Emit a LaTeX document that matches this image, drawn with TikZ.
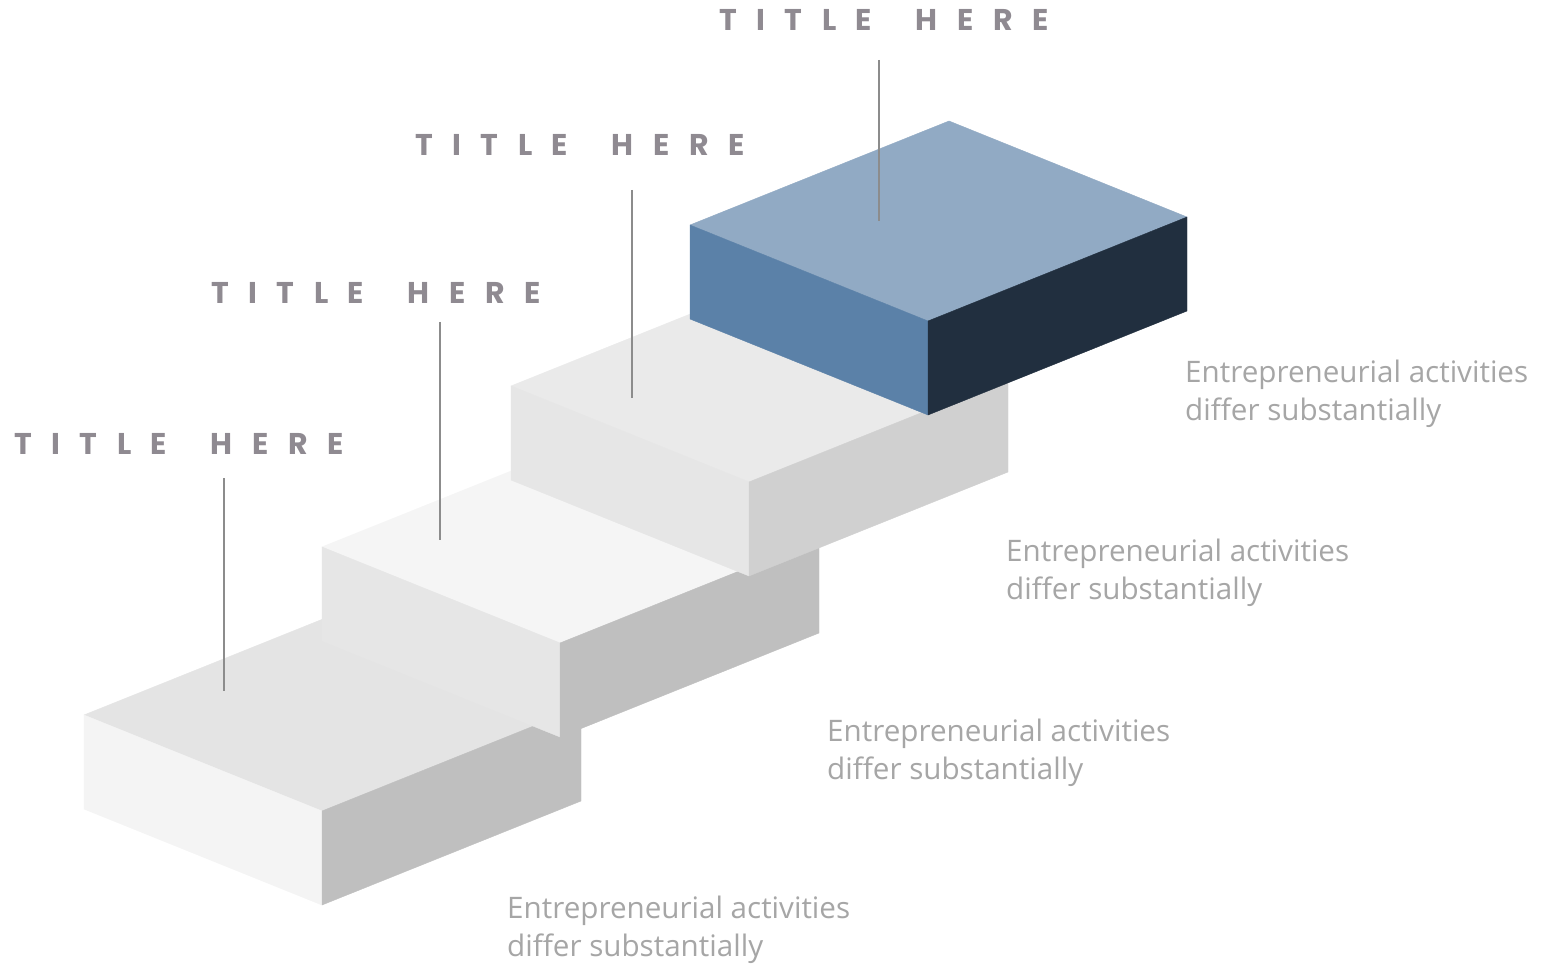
\documentclass[tikz,border=0pt]{standalone}
\usepackage{fontspec}
\setmainfont{Open Sans}
\newfontfamily\titlefont[LetterSpace=65]{Poppins}
\definecolor{titlegrey}{HTML}{8F8A91}
\definecolor{textgrey}{HTML}{A6A6A6}
\definecolor{linegrey}{HTML}{8C8C8C}
\definecolor{gA}{HTML}{E4E4E4}
\definecolor{gB}{HTML}{F4F4F4}
\definecolor{gC}{HTML}{BFBFBF}
\definecolor{gD}{HTML}{F5F5F5}
\definecolor{gE}{HTML}{E6E6E6}
\definecolor{gF}{HTML}{EAEAEA}
\definecolor{gG}{HTML}{D0D0D0}
\definecolor{bTop}{HTML}{91AAC4}
\definecolor{bLeft}{HTML}{5B81A8}
\definecolor{bRight}{HTML}{212F3F}
\newcommand\ttlhere{TITLE\hspace{18pt} HERE}
\tikzset{
  titlelbl/.style={anchor=base west, inner sep=0pt, text=titlegrey,
    font=\titlefont\bfseries\fontsize{30}{30}\selectfont},
  desclbl/.style={anchor=base west, inner sep=0pt, text=textgrey, align=left,
    font=\fontsize{29.6}{37.5}\selectfont},
  leader/.style={draw=linegrey, line width=1.4pt},
  face/.style={fill=#1, draw=#1, line width=0.4pt, line join=round}
}
\usetikzlibrary{calc}
% #1,#2 = left-top corner; #3 top, #4 left, #5 right colours
\newcommand\isobox[5]{%
  \path[face=#3] (#1,#2) -- ++(238,96) -- ++(259,-104) -- ++(-238,-96) -- cycle;
  \path[face=#4] (#1,#2) -- ++(238,96) -- ++(0,94) -- ++(-238,-96) -- cycle;
  \path[face=#5] ($(#1,#2)+(238,96)$) -- ++(259,-104) -- ++(0,94) -- ++(-259,104) -- cycle;
}
\begin{document}
\begin{tikzpicture}[x=1pt,y=-1pt]
\useasboundingbox (0,0) rectangle (1555,965);
\fill[white] (0,0) rectangle (1555,965);

% boxes, drawn back to front
\isobox{84}{715}{gA}{gB}{gC}
\isobox{322}{547}{gD}{gE}{gC}
\isobox{511}{386}{gF}{gE}{gG}
\isobox{690}{225}{bTop}{bLeft}{bRight}

% titles
\node[titlelbl] (t1) at (14,454) {\ttlhere};
\node[titlelbl] (t2) at (211,304) {\ttlhere};
\node[titlelbl] (t3) at (415,156) {\ttlhere};
\node[titlelbl] (t4) at (719,31) {\ttlhere};

% leader lines
\coordinate (l1a) at (224,478); \coordinate (l1b) at (224,691);
\coordinate (l2a) at (440,322); \coordinate (l2b) at (440,540);
\coordinate (l3a) at (632,190); \coordinate (l3b) at (632,398);
\coordinate (l4a) at (879,60);  \coordinate (l4b) at (879,221);
\draw[leader] (l1a) -- (l1b);
\draw[leader] (l2a) -- (l2b);
\draw[leader] (l3a) -- (l3b);
\draw[leader] (l4a) -- (l4b);

% descriptions
\node[desclbl] (d1) at (507,956) {Entrepreneurial activities\\differ substantially};
\node[desclbl] (d2) at (827,779) {Entrepreneurial activities\\differ substantially};
\node[desclbl] (d3) at (1006,599) {Entrepreneurial activities\\differ substantially};
\node[desclbl] (d4) at (1185,420) {Entrepreneurial activities\\differ substantially};
\end{tikzpicture}
\end{document}
